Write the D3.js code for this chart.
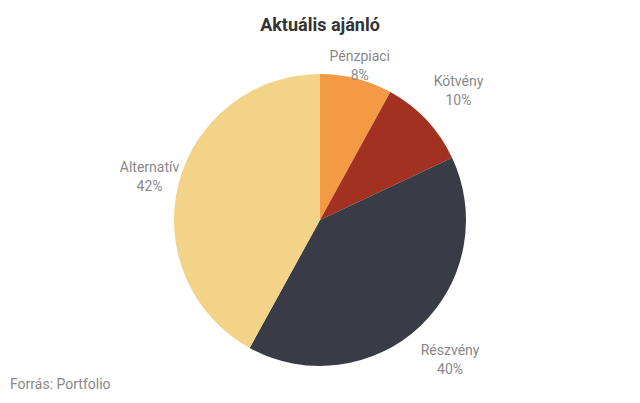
<!DOCTYPE html>
<html><head><meta charset="utf-8">
<script src="https://cdn.jsdelivr.net/npm/d3@7"></script>
<style>body{margin:0;background:#fff}svg{font-family:Roboto,sans-serif}</style>
</head><body><div id="chart"></div>
<script>
const categories = ['Pénzpiaci', 'Kötvény', 'Részvény', 'Alternatív'];
const values = [8, 10, 40, 42];
const colors = ['#f49a45', '#a33121', '#393c47', '#f3d387'];

const W = 640, H = 403, cx = 320, cy = 220, R = 146;
const svg = d3.select('#chart').append('svg').attr('width', W).attr('height', H);

svg.append('text').attr('x', W / 2).attr('y', 31).attr('text-anchor', 'middle')
  .attr('font-size', 18).attr('font-weight', 'bold').attr('fill', '#333').text('Aktuális ajánló');

const data = categories.map((c, i) => ({ name: c, value: values[i], color: colors[i] }));
const pie = d3.pie().value(d => d.value).sort(null);
const arcs = pie(data);
const arc = d3.arc().innerRadius(0).outerRadius(R);
// label distance grows a little for the lower slices, as in the reference
const labelR = d => (d.index === 0 ? R + 14 : d.index === 3 ? R + 30 : R + 44);

const g = svg.append('g').attr('transform', `translate(${cx},${cy})`);
g.selectAll('path').data(arcs).join('path')
  .attr('d', arc).attr('fill', d => d.data.color);

const lab = g.selectAll('g.lab').data(arcs).join('g').attr('class', 'lab')
  .attr('transform', d => {
    const r = labelR(d);
    const [x, y] = d3.arc().innerRadius(r).outerRadius(r).centroid(d);
    return `translate(${x},${y})`;
  });
lab.append('text').attr('text-anchor', 'middle').attr('y', -4)
  .attr('font-size', 14).attr('fill', '#888').text(d => d.data.name);
lab.append('text').attr('text-anchor', 'middle').attr('y', 15)
  .attr('font-size', 14).attr('fill', '#888').text(d => d.data.value + '%');

svg.append('text').attr('x', 10).attr('y', 389).attr('font-size', 14)
  .attr('fill', '#888').text('Forrás: Portfolio');
</script></body></html>
